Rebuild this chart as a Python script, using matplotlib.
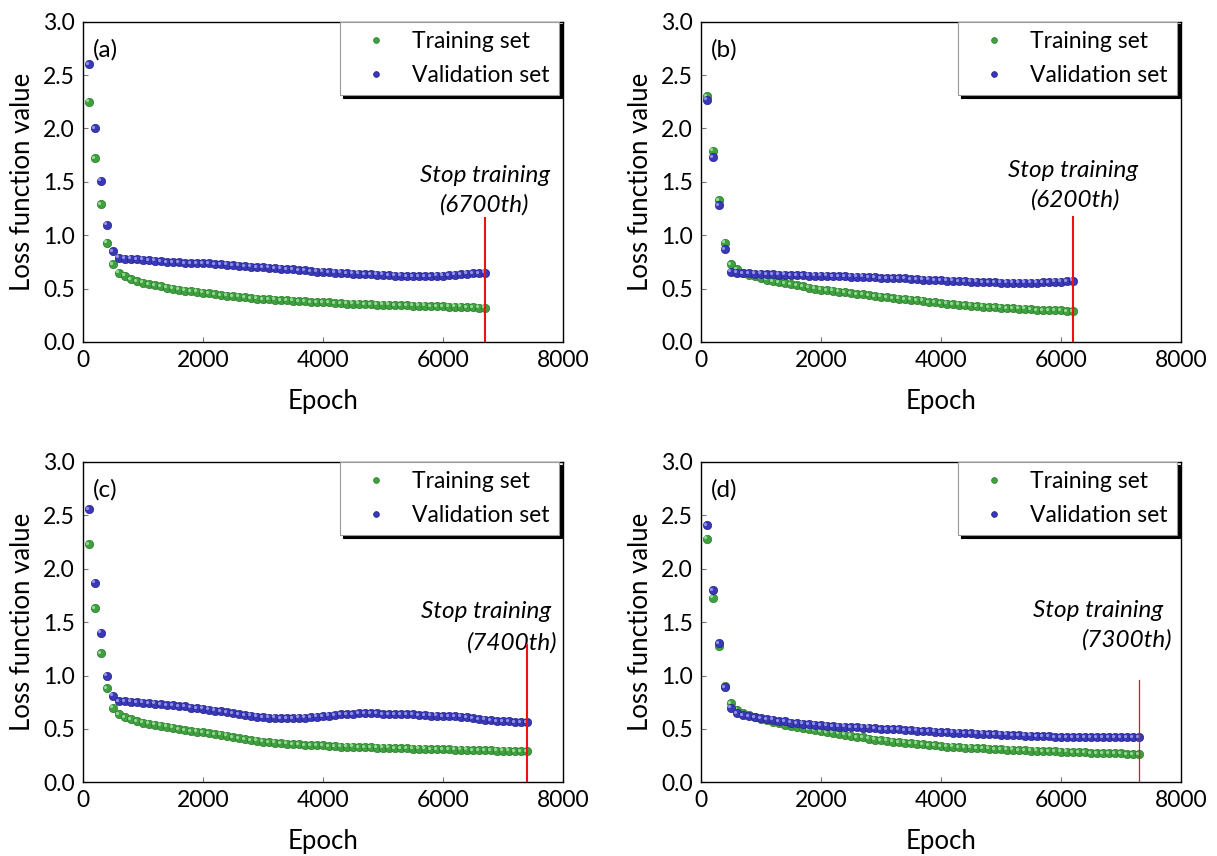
import numpy as np
import matplotlib
matplotlib.use("Agg")
import matplotlib.pyplot as plt
from matplotlib.transforms import ScaledTranslation

plt.rcParams['font.family'] = ['Lato', 'DejaVu Sans']

# loss values, sampled every 100 epochs
train_a = [2.25, 1.72, 1.29, 0.93, 0.73, 0.65, 0.62, 0.59, 0.57, 0.555,
           0.54, 0.53, 0.52, 0.51, 0.50, 0.49, 0.48, 0.475, 0.47, 0.46,
           0.455, 0.45, 0.44, 0.435, 0.43, 0.425, 0.42, 0.41, 0.405, 0.40,
           0.40, 0.395, 0.39, 0.39, 0.385, 0.38, 0.38, 0.375, 0.375, 0.37,
           0.37, 0.365, 0.365, 0.36, 0.36, 0.36, 0.355, 0.355, 0.35, 0.35,
           0.35, 0.345, 0.345, 0.345, 0.34, 0.34, 0.34, 0.335, 0.335, 0.335,
           0.33, 0.33, 0.33, 0.325, 0.325, 0.32, 0.32]
val_a = [2.60, 2.00, 1.51, 1.10, 0.85, 0.79, 0.78, 0.78, 0.775, 0.77,
         0.765, 0.76, 0.755, 0.75, 0.75, 0.745, 0.74, 0.74, 0.74, 0.735,
         0.735, 0.73, 0.73, 0.725, 0.72, 0.715, 0.71, 0.705, 0.70, 0.70,
         0.695, 0.69, 0.685, 0.68, 0.68, 0.675, 0.67, 0.665, 0.66, 0.66,
         0.655, 0.65, 0.65, 0.645, 0.64, 0.64, 0.635, 0.635, 0.63, 0.63,
         0.625, 0.62, 0.62, 0.615, 0.615, 0.615, 0.615, 0.615, 0.62, 0.62,
         0.625, 0.63, 0.635, 0.64, 0.645, 0.645, 0.65]

train_b = [2.30, 1.79, 1.33, 0.93, 0.73, 0.68, 0.65, 0.63, 0.615, 0.60,
           0.585, 0.57, 0.56, 0.55, 0.54, 0.53, 0.52, 0.51, 0.50, 0.49,
           0.485, 0.48, 0.47, 0.465, 0.455, 0.45, 0.445, 0.44, 0.43, 0.425,
           0.42, 0.41, 0.405, 0.40, 0.395, 0.39, 0.385, 0.375, 0.37, 0.365,
           0.36, 0.355, 0.35, 0.345, 0.34, 0.335, 0.33, 0.325, 0.325, 0.32,
           0.315, 0.315, 0.31, 0.31, 0.305, 0.30, 0.30, 0.30, 0.295, 0.295,
           0.29, 0.29]
val_b = [2.27, 1.73, 1.28, 0.87, 0.66, 0.65, 0.645, 0.645, 0.64, 0.64,
         0.635, 0.635, 0.63, 0.63, 0.625, 0.625, 0.625, 0.62, 0.62, 0.62,
         0.62, 0.615, 0.615, 0.615, 0.61, 0.61, 0.61, 0.605, 0.605, 0.60,
         0.60, 0.60, 0.595, 0.595, 0.59, 0.59, 0.585, 0.585, 0.58, 0.58,
         0.575, 0.575, 0.57, 0.57, 0.565, 0.565, 0.56, 0.56, 0.56, 0.555,
         0.555, 0.555, 0.555, 0.555, 0.555, 0.555, 0.56, 0.56, 0.565, 0.565,
         0.57, 0.575]

train_c = [2.23, 1.63, 1.21, 0.88, 0.70, 0.64, 0.61, 0.59, 0.575, 0.56,
           0.55, 0.54, 0.53, 0.52, 0.51, 0.50, 0.49, 0.48, 0.475, 0.47,
           0.46, 0.45, 0.445, 0.435, 0.425, 0.415, 0.405, 0.395, 0.39, 0.38,
           0.375, 0.37, 0.365, 0.36, 0.355, 0.355, 0.35, 0.35, 0.345, 0.345,
           0.34, 0.34, 0.335, 0.335, 0.335, 0.33, 0.33, 0.33, 0.325, 0.325,
           0.325, 0.32, 0.32, 0.32, 0.315, 0.315, 0.315, 0.31, 0.31, 0.31,
           0.31, 0.305, 0.305, 0.305, 0.30, 0.30, 0.30, 0.30, 0.295, 0.295,
           0.295, 0.29, 0.29, 0.29]
val_c = [2.56, 1.87, 1.40, 1.00, 0.81, 0.76, 0.76, 0.755, 0.75, 0.745,
         0.74, 0.735, 0.73, 0.725, 0.72, 0.715, 0.71, 0.70, 0.695, 0.69,
         0.68, 0.67, 0.665, 0.655, 0.645, 0.64, 0.63, 0.625, 0.615, 0.61,
         0.605, 0.605, 0.60, 0.60, 0.60, 0.605, 0.605, 0.61, 0.615, 0.62,
         0.625, 0.63, 0.635, 0.64, 0.64, 0.645, 0.645, 0.645, 0.645, 0.64,
         0.64, 0.64, 0.635, 0.635, 0.635, 0.63, 0.63, 0.625, 0.625, 0.62,
         0.62, 0.62, 0.615, 0.61, 0.60, 0.59, 0.585, 0.58, 0.575, 0.57,
         0.57, 0.565, 0.565, 0.565]

train_d = [2.28, 1.73, 1.28, 0.90, 0.74, 0.68, 0.65, 0.63, 0.61, 0.595,
           0.58, 0.565, 0.555, 0.54, 0.53, 0.52, 0.51, 0.50, 0.49, 0.48,
           0.47, 0.465, 0.455, 0.445, 0.435, 0.425, 0.42, 0.41, 0.40, 0.395,
           0.39, 0.38, 0.375, 0.37, 0.365, 0.36, 0.355, 0.35, 0.345, 0.34,
           0.335, 0.335, 0.33, 0.325, 0.325, 0.32, 0.32, 0.315, 0.31, 0.31,
           0.305, 0.305, 0.30, 0.30, 0.295, 0.295, 0.29, 0.29, 0.29, 0.285,
           0.285, 0.28, 0.28, 0.28, 0.275, 0.275, 0.275, 0.27, 0.27, 0.27,
           0.265, 0.265, 0.265]
val_d = [2.41, 1.80, 1.30, 0.89, 0.70, 0.65, 0.63, 0.62, 0.61, 0.60,
         0.59, 0.585, 0.575, 0.57, 0.56, 0.555, 0.55, 0.545, 0.54, 0.535,
         0.53, 0.525, 0.52, 0.52, 0.515, 0.515, 0.51, 0.51, 0.505, 0.50,
         0.50, 0.495, 0.495, 0.49, 0.49, 0.485, 0.48, 0.48, 0.475, 0.47,
         0.47, 0.465, 0.465, 0.46, 0.46, 0.455, 0.455, 0.45, 0.45, 0.445,
         0.445, 0.44, 0.44, 0.435, 0.435, 0.43, 0.43, 0.43, 0.425, 0.425,
         0.425, 0.425, 0.42, 0.42, 0.42, 0.42, 0.42, 0.42, 0.42, 0.42,
         0.42, 0.42, 0.42]

panel_labels = ['(a)', '(b)', '(c)', '(d)']
stop_epochs = [6700, 6200, 7400, 7300]
train_sets = [train_a, train_b, train_c, train_d]
val_sets = [val_a, val_b, val_c, val_d]

# "Stop training" note: (x, y) of each line, and the red line
note1_xy = [(6700, 1.56), (6200, 1.61), (6720, 1.595), (6620, 1.61)]
note2_xy = [(6700, 1.28), (6250, 1.33), (7160, 1.305), (7110, 1.33)]
line_top = [1.16, 1.17, 1.29, 0.96]
line_w = [1.5, 1.5, 1.5, 0.9]

green, green_hi = '#3ea03e', '#aae8aa'
blue, blue_hi = '#3838b8', '#aaaaf4'

fig = plt.figure(figsize=(12.17, 8.56), dpi=100)
boxes = [[0.0680, 0.6005, 0.3944, 0.3742], [0.5758, 0.6005, 0.3944, 0.3742],
         [0.0680, 0.0861, 0.3944, 0.3742], [0.5758, 0.0861, 0.3944, 0.3742]]

hi_shift = ScaledTranslation(-1.0 / 72, 1.0 / 72, fig.dpi_scale_trans)

for i in range(4):
    ax = fig.add_axes(boxes[i])
    epochs = np.arange(100, stop_epochs[i] + 1, 100)
    tr = train_sets[i]
    va = val_sets[i]

    ax.plot(epochs, tr, 'o', ms=6, color=green, mec='#2b7a2b', mew=0.5,
            label='Training set', zorder=3)
    ax.plot(epochs, tr, 'o', ms=2.3, color=green_hi, mew=0, alpha=0.8,
            transform=ax.transData + hi_shift, zorder=3)
    ax.plot(epochs, va, 'o', ms=6, color=blue, mec='#25258a', mew=0.5,
            label='Validation set', zorder=4)
    ax.plot(epochs, va, 'o', ms=2.3, color=blue_hi, mew=0, alpha=0.8,
            transform=ax.transData + hi_shift, zorder=4)

    ax.plot([stop_epochs[i], stop_epochs[i]], [0, line_top[i]],
            color='#ee1111', lw=line_w[i], zorder=5)
    ax.text(note1_xy[i][0], note1_xy[i][1], 'Stop training',
            ha='center', va='center', style='italic', fontsize=17.5)
    ax.text(note2_xy[i][0], note2_xy[i][1], '(%dth)' % stop_epochs[i],
            ha='center', va='center', style='italic', fontsize=17.5)
    ax.text(0.022, 0.912, panel_labels[i], transform=ax.transAxes,
            ha='left', va='center', fontsize=17.5)

    ax.set_xlim(0, 8000)
    ax.set_ylim(0, 3.0)
    ax.set_xticks([0, 2000, 4000, 6000, 8000])
    ax.set_yticks([0, 0.5, 1.0, 1.5, 2.0, 2.5, 3.0])
    ax.set_yticklabels(['0.0', '0.5', '1.0', '1.5', '2.0', '2.5', '3.0'])
    ax.tick_params(direction='in', length=3.8, color='#777777',
                   labelsize=16.5, pad=5.5)
    for s in ax.spines.values():
        s.set_linewidth(1.0)
    ax.set_xlabel('Epoch', fontsize=18.5, labelpad=13)
    ax.set_ylabel('Loss function value', fontsize=18.5, labelpad=6)

    leg = ax.legend(loc='upper right', bbox_to_anchor=(0.992, 1.0),
                    fontsize=16.5, frameon=True, fancybox=False,
                    shadow={'color': 'black', 'alpha': 1.0},
                    markerscale=0.7, handlelength=2.3, handletextpad=0.45,
                    borderaxespad=0, labelspacing=0.57)
    leg.get_frame().set_edgecolor('#999999')
    leg.get_frame().set_linewidth(0.8)

fig.savefig('out.png', dpi=100)
